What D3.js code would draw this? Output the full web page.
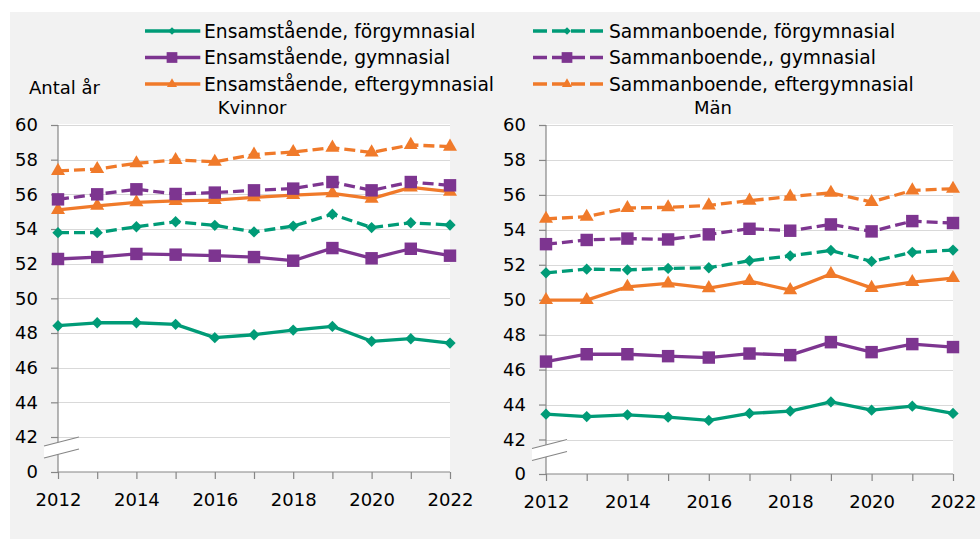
<!DOCTYPE html>
<html>
<head>
<meta charset="utf-8">
<script src="https://cdn.jsdelivr.net/npm/d3@7"></script>
<style>
  body { margin: 0; background: #fff; }
  svg text { font-family: "DejaVu Sans", Verdana, sans-serif; fill: #000; }
</style>
</head>
<body>
<div id="chart"></div>
<script>
// data
var years = [2012, 2013, 2014, 2015, 2016, 2017, 2018, 2019, 2020, 2021, 2022];
var yTicks = [0, 42, 44, 46, 48, 50, 52, 54, 56, 58, 60];
var xLabels = [2012, 2014, 2016, 2018, 2020, 2022];

var seriesNames = ["Ensamstående, förgymnasial", "Ensamstående, gymnasial", "Ensamstående, eftergymnasial",
    "Sammanboende, förgymnasial", "Sammanboende,, gymnasial", "Sammanboende, eftergymnasial"];

// Kvinnor
var kvEnsForgym  = [48.42, 48.59, 48.59, 48.50, 47.73, 47.90, 48.17, 48.38, 47.52, 47.67, 47.42];
var kvEnsGym     = [52.27, 52.38, 52.56, 52.52, 52.46, 52.38, 52.17, 52.90, 52.31, 52.86, 52.46];
var kvEnsEfter   = [55.10, 55.34, 55.54, 55.62, 55.67, 55.83, 55.96, 56.06, 55.75, 56.40, 56.15];
var kvSamForgym  = [53.79, 53.79, 54.13, 54.42, 54.21, 53.83, 54.17, 54.85, 54.08, 54.36, 54.23];
var kvSamGym     = [55.71, 56.00, 56.29, 56.02, 56.10, 56.23, 56.33, 56.71, 56.23, 56.71, 56.52];
var kvSamEfter   = [57.35, 57.46, 57.79, 57.98, 57.88, 58.29, 58.44, 58.69, 58.42, 58.85, 58.75];

// Män
var manEnsForgym = [43.45, 43.31, 43.41, 43.28, 43.09, 43.49, 43.62, 44.15, 43.68, 43.91, 43.49];
var manEnsGym    = [46.46, 46.88, 46.88, 46.77, 46.69, 46.92, 46.83, 47.57, 47.00, 47.46, 47.29];
var manEnsEfter  = [49.98, 49.98, 50.74, 50.93, 50.66, 51.07, 50.55, 51.47, 50.68, 51.01, 51.24];
var manSamForgym = [51.54, 51.75, 51.71, 51.79, 51.83, 52.23, 52.51, 52.82, 52.19, 52.71, 52.84];
var manSamGym    = [53.18, 53.42, 53.50, 53.45, 53.74, 54.06, 53.95, 54.31, 53.91, 54.50, 54.39];
var manSamEfter  = [54.63, 54.75, 55.25, 55.29, 55.40, 55.67, 55.90, 56.12, 55.59, 56.26, 56.35];

var teal = "#009b77", purple = "#7d3590", orange = "#f07a2a";
var styles = [
  { color: teal,   shape: "diamond",  dash: null },
  { color: purple, shape: "square",   dash: null },
  { color: orange, shape: "triangle", dash: null },
  { color: teal,   shape: "diamond",  dash: "11,5" },
  { color: purple, shape: "square",   dash: "11,5" },
  { color: orange, shape: "triangle", dash: "11,5" }
];

var panels = [
  { title: "Kvinnor", x0: 58, x1: 450, yTop: 125, y42: 437, y0: 472, titleX: 252,
    data: [kvEnsForgym, kvEnsGym, kvEnsEfter, kvSamForgym, kvSamGym, kvSamEfter] },
  { title: "Män", x0: 546, x1: 953, yTop: 125, y42: 439.5, y0: 474, titleX: 713,
    data: [manEnsForgym, manEnsGym, manEnsEfter, manSamForgym, manSamGym, manSamEfter] }
];

var W = 980, H = 539;
var svg = d3.select("#chart").append("svg").attr("width", W).attr("height", H);

svg.append("rect").attr("x", 10).attr("y", 12).attr("width", W - 10).attr("height", H - 12)
  .attr("fill", "#f2f2f2");

var symbolPath = function(shape, big) {
  if (shape == "diamond") return d3.symbol(d3.symbolSquare, big ? 64 : 30)();
  if (shape == "square") return d3.symbol(d3.symbolSquare, big ? 155 : 115)();
  return d3.symbol(d3.symbolTriangle, big ? 85 : 44)();
};
var symbolRotate = function(shape) { return shape == "diamond" ? " rotate(45)" : ""; };

panels.forEach(function(p) {
  var xScale = d3.scaleLinear().domain([2012, 2022]).range([p.x0, p.x1]);
  // broken axis: 0 is drawn just below 42
  var yScale = d3.scaleLinear().domain([0, 42, 60]).range([p.y0, p.y42, p.yTop]);

  var g = svg.append("g");

  g.append("rect").attr("x", p.x0).attr("y", p.yTop - 1)
    .attr("width", p.x1 - p.x0).attr("height", p.y0 - p.yTop + 1).attr("fill", "#fff");

  // gridlines
  g.selectAll(".grid").data(yTicks.slice(1)).enter().append("line")
    .attr("x1", p.x0).attr("x2", p.x1)
    .attr("y1", function(d) { return Math.round(yScale(d)) + 0.5; })
    .attr("y2", function(d) { return Math.round(yScale(d)) + 0.5; })
    .attr("stroke", "#d9d9d9").attr("stroke-width", 1);

  var yAxis = d3.axisLeft(yScale).tickValues(yTicks).tickSize(7).tickPadding(13)
    .tickFormat(d3.format("d"));
  var yg = g.append("g").attr("transform", "translate(" + p.x0 + ",0)").call(yAxis);

  var xAxis = d3.axisBottom(xScale).tickValues(years).tickSize(7).tickPadding(14)
    .tickFormat(function(d) { return xLabels.indexOf(d) >= 0 ? d : ""; });
  var xg = g.append("g").attr("transform", "translate(0," + p.y0 + ")").call(xAxis);

  [yg, xg].forEach(function(a) {
    a.select(".domain").attr("stroke", "#868686").attr("stroke-width", 1.2);
    a.selectAll(".tick line").attr("stroke", "#868686").attr("stroke-width", 1.2);
    a.selectAll("text").style("font-size", "18px").attr("fill", "#000");
  });
  yg.select(".domain").attr("d", "M-0," + p.yTop + "V" + p.y0);
  xg.select(".domain").attr("d", "M" + p.x0 + ",0H" + p.x1);

  // axis break marks
  var bx0 = p.x0 - 14, bx1 = p.x0 + 21;
  var ya = yScale(42) + 9, yb = yScale(42) + 21;
  g.append("path")
    .attr("d", "M" + bx0 + "," + ya + "L" + bx1 + "," + (ya - 9) + "L" + bx1 + "," + (yb - 9) + "L" + bx0 + "," + yb + "Z")
    .attr("fill", "#fff");
  [ya, yb].forEach(function(yy) {
    g.append("line").attr("x1", bx0).attr("y1", yy).attr("x2", bx1).attr("y2", yy - 9)
      .attr("stroke", "#868686").attr("stroke-width", 1.2);
  });

  var line = d3.line()
    .x(function(d, i) { return xScale(years[i]); })
    .y(function(d) { return yScale(d); });

  p.data.forEach(function(vals, k) {
    var s = styles[k];
    g.append("path").datum(vals).attr("d", line)
      .attr("fill", "none").attr("stroke", s.color).attr("stroke-width", 3.3)
      .attr("stroke-linejoin", "round")
      .attr("stroke-dasharray", s.dash);
    g.selectAll(".m" + k).data(vals).enter().append("path")
      .attr("class", "m" + k)
      .attr("d", symbolPath(s.shape, true))
      .attr("transform", function(d, i) {
        return "translate(" + xScale(years[i]) + "," + yScale(d) + ")" + symbolRotate(s.shape);
      })
      .attr("fill", s.color);
  });

  g.append("text").attr("x", p.titleX).attr("y", 114).attr("text-anchor", "middle")
    .style("font-size", "18px").text(p.title);
});

svg.append("text").attr("x", 29).attr("y", 94).style("font-size", "18px").text("Antal år");

// legend, two columns of three
var legendX = [145, 533];
var legendY = [31, 57.5, 84];
seriesNames.forEach(function(name, k) {
  var s = styles[k];
  var col = k < 3 ? 0 : 1, row = k % 3;
  var lx = legendX[col], ly = legendY[row];
  var lg = svg.append("g");
  lg.append("line").attr("x1", lx).attr("x2", lx + 70 * (col ? 1 : 0.79)).attr("y1", ly).attr("y2", ly)
    .attr("stroke", s.color).attr("stroke-width", 3.3)
    .attr("stroke-dasharray", s.dash ? "14,5" : null);
  var mx = col ? lx + 34 : lx + 27;
  lg.append("path").attr("d", symbolPath(s.shape, false))
    .attr("transform", "translate(" + mx + "," + ly + ")" + symbolRotate(s.shape))
    .attr("fill", s.color);
  lg.append("text").attr("x", col ? 609 : 204).attr("y", ly + 6.5)
    .style("font-size", "18.7px").text(name);
});
</script>
</body>
</html>
